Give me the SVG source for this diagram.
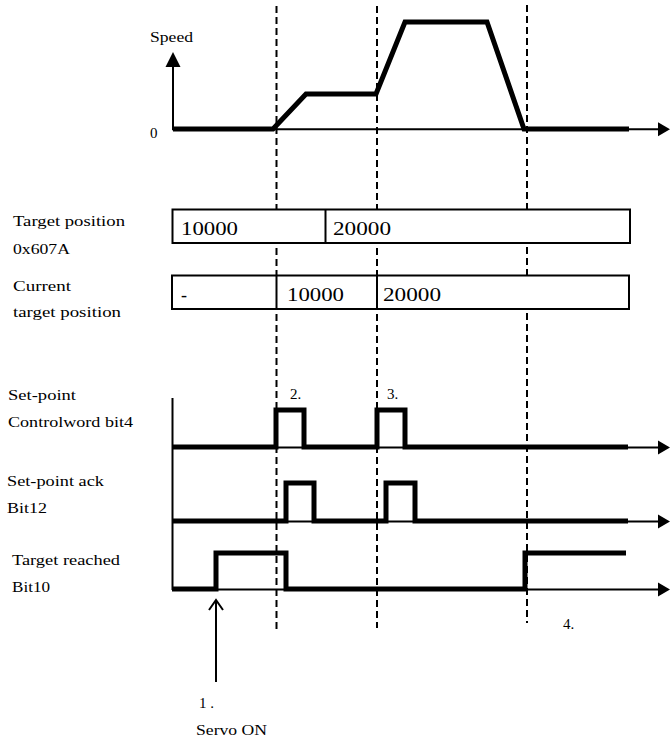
<svg xmlns="http://www.w3.org/2000/svg" width="670" height="742" viewBox="0 0 670 742">
<style>
  text { font-family: "Liberation Serif", "Times New Roman", serif; fill: #000; }
  .lbl { font-size: 15px; }
  .num { font-size: 18px; }
  .dash { stroke: #000; stroke-width: 2; stroke-dasharray: 7 4; fill: none; }
  .thin { stroke: #000; stroke-width: 2; fill: none; }
  .thick { stroke: #000; stroke-width: 5; fill: none; stroke-linejoin: miter; }
  .box { fill: #fff; stroke: #000; stroke-width: 2; }
  .head { fill: #000; }
</style>
<rect width="670" height="742" fill="#fff"/>

<g id="connectors">
  <line class="dash" x1="276.5" y1="6" x2="276.5" y2="632"/>
  <line class="dash" x1="377" y1="6" x2="377" y2="628"/>
  <line class="dash" x1="527" y1="5" x2="527" y2="623"/>
</g>

<g id="speed-chart">
  <line class="thin" x1="173" y1="130" x2="173" y2="64"/>
  <polygon class="head" points="173,52 165.5,67 180.5,67"/>
  <line class="thin" x1="172" y1="129.3" x2="660" y2="129.3"/>
  <polygon class="head" points="670,129.3 658,122.3 658,136.3"/>
  <polyline class="thick" stroke-width="5.5" points="173,129 273,129 306,94 376,94 405,22 487,22 524,129 629,129"/>
  <text class="lbl" x="150" y="42" textLength="43" lengthAdjust="spacingAndGlyphs">Speed</text>
  <text class="lbl" x="150" y="138">0</text>
</g>

<g id="target-position">
  <rect class="box" x="172.5" y="209.5" width="457.5" height="33.5"/>
  <line class="thin" x1="325.5" y1="209.5" x2="325.5" y2="243"/>
  <text class="num" x="181" y="235" textLength="57" lengthAdjust="spacingAndGlyphs">10000</text>
  <text class="num" x="333" y="235" textLength="58" lengthAdjust="spacingAndGlyphs">20000</text>
  <text class="lbl" x="13" y="226" textLength="112" lengthAdjust="spacingAndGlyphs">Target position</text>
  <text class="lbl" x="13" y="254" textLength="57" lengthAdjust="spacingAndGlyphs">0x607A</text>
</g>

<g id="current-target-position">
  <rect class="box" x="172" y="275.5" width="457" height="33.5"/>
  <line class="thin" x1="276.5" y1="275.5" x2="276.5" y2="309"/>
  <line class="thin" x1="377" y1="275.5" x2="377" y2="309"/>
  <text class="num" x="181" y="301">-</text>
  <text class="num" x="287" y="301" textLength="57" lengthAdjust="spacingAndGlyphs">10000</text>
  <text class="num" x="383" y="301" textLength="58" lengthAdjust="spacingAndGlyphs">20000</text>
  <text class="lbl" x="13" y="291" textLength="58" lengthAdjust="spacingAndGlyphs">Current</text>
  <text class="lbl" x="13" y="317" textLength="108" lengthAdjust="spacingAndGlyphs">target position</text>
</g>

<g id="signal-axis">
  <line class="thin" x1="172.5" y1="398" x2="172.5" y2="590"/>
</g>

<g id="set-point">
  <line class="thin" x1="172" y1="447.5" x2="660" y2="447.5"/>
  <polygon class="head" points="670,447.5 658,440.5 658,454.5"/>
  <polyline class="thick" points="172,447 276,447 276,410 304,410 304,447 377,447 377,410 405,410 405,447 628,447"/>
  <text class="lbl" x="8" y="400" textLength="68" lengthAdjust="spacingAndGlyphs">Set-point</text>
  <text class="lbl" x="8" y="427" textLength="125" lengthAdjust="spacingAndGlyphs">Controlword bit4</text>
  <text class="lbl" x="290" y="399">2.</text>
  <text class="lbl" x="387" y="399">3.</text>
</g>

<g id="set-point-ack">
  <line class="thin" x1="172" y1="521.5" x2="660" y2="521.5"/>
  <polygon class="head" points="670,521.5 658,514.5 658,528.5"/>
  <polyline class="thick" points="172,521 286,521 286,483 314,483 314,521 386,521 386,483 415,483 415,521 628,521"/>
  <text class="lbl" x="7" y="486" textLength="97" lengthAdjust="spacingAndGlyphs">Set-point ack</text>
  <text class="lbl" x="7" y="513" textLength="40" lengthAdjust="spacingAndGlyphs">Bit12</text>
</g>

<g id="target-reached">
  <line class="thin" x1="172" y1="589.5" x2="660" y2="589.5"/>
  <polygon class="head" points="670,589.5 658,582.5 658,596.5"/>
  <polyline class="thick" points="172,589 216,589 216,553 286,553 286,589 525,589 525,553 626,553"/>
  <text class="lbl" x="12" y="565" textLength="108" lengthAdjust="spacingAndGlyphs">Target reached</text>
  <text class="lbl" x="12" y="592" textLength="38" lengthAdjust="spacingAndGlyphs">Bit10</text>
  <text class="lbl" x="563" y="629">4.</text>
</g>

<g id="servo-on">
  <line class="thin" x1="216" y1="601" x2="216" y2="682"/>
  <polyline class="thin" points="209,610 216,600 223,610"/>
  <text class="lbl" x="199" y="708">1 .</text>
  <text class="lbl" x="196" y="735" textLength="71" lengthAdjust="spacingAndGlyphs">Servo ON</text>
</g>
</svg>
